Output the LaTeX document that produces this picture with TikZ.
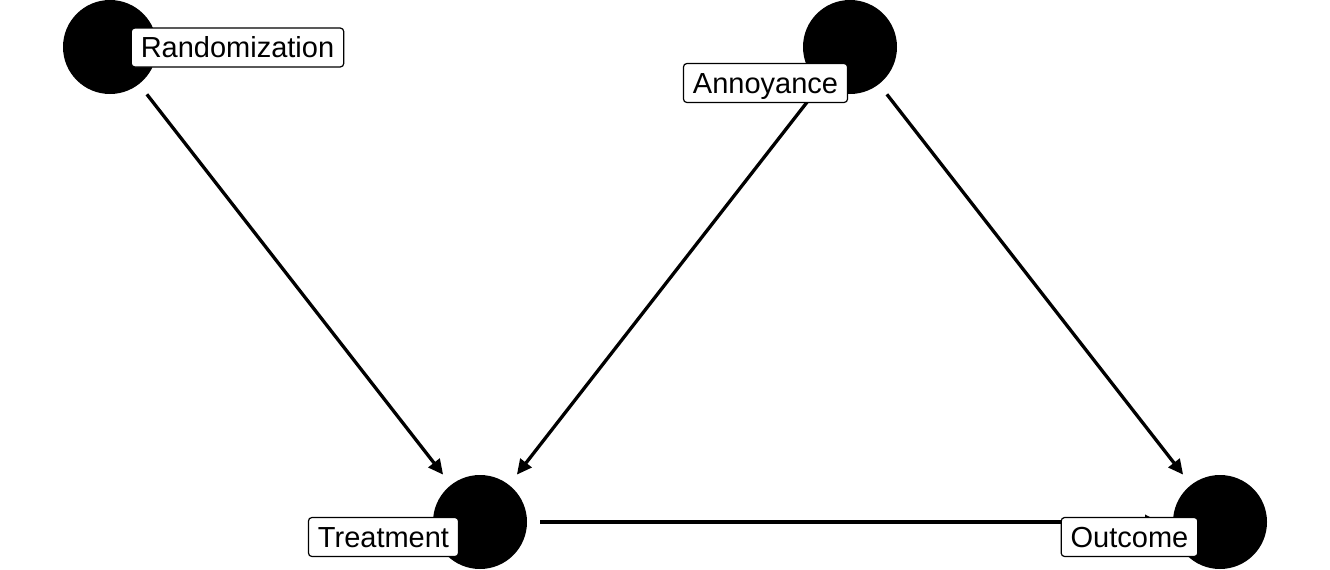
\documentclass[tikz,border=0pt]{standalone}
\usepackage{fontspec}
\setmainfont{Liberation Sans}
\usetikzlibrary{arrows.meta}
\begin{document}
\begin{tikzpicture}[x=1pt,y=-1pt,
  dagnode/.style={circle,fill=black,minimum size=94pt,inner sep=0pt,outer sep=13pt},
  dagedge/.style={line width=3.3pt,-{Triangle[length=15pt,width=14pt]}},
  daglabel/.style={draw=black,fill=white,line width=1.2pt,rounded corners=3.5pt,
    inner xsep=9.5pt,inner ysep=0pt,minimum height=39pt,text height=20.6pt,text depth=0pt,
    font=\fontsize{29}{30}\selectfont}]
\useasboundingbox (0,0) rectangle (1330,570);
\node[dagnode] (R) at (110,47) {};
\node[dagnode] (A) at (850,47) {};
\node[dagnode] (T) at (480,522) {};
\node[dagnode] (O) at (1220,522) {};
\draw[dagedge] (R) -- (T);
\draw[dagedge] (A) -- (T);
\draw[dagedge] (A) -- (O);
\draw[dagedge] (T) -- (O);
\node[daglabel] (Rl) at (237.5,47.5) {Randomization};
\node[daglabel] (Al) at (765.5,83) {Annoyance};
\node[daglabel] (Tl) at (383.5,537) {Treatment};
\node[daglabel] (Ol) at (1129.5,537) {Outcome};
\end{tikzpicture}
\end{document}
